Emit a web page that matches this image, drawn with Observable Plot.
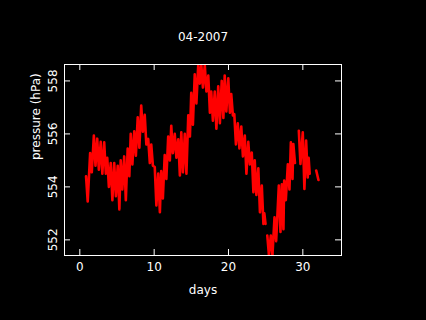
<!DOCTYPE html>
<html>
<head>
<meta charset="utf-8">
<script src="https://cdn.jsdelivr.net/npm/d3@7"></script>
<script src="https://cdn.jsdelivr.net/npm/@observablehq/plot@0.6"></script>
<style>
  html, body { margin: 0; padding: 0; background: #000; }
  #chart svg { display: block; }
</style>
</head>
<body>
<div id="chart"></div>
<script>
const title = "04-2007";
const xLabel = "days";
const yLabel = "pressure (hPa)";
const xTicks = [0, 10, 20, 30];
const yTicks = [552, 554, 556, 558];

// pressure readings (hPa); null = gap in the record
const days = [
  0.84, 1.06, 1.39, 1.61, 1.89, 2.11, 2.34, 2.56, 2.81, 3.03,
  3.28, 3.50, 3.69, 3.91, 4.16, 4.38, 4.63, 4.85, 5.10, 5.32,
  5.50, 5.72, 5.97, 6.19, 6.44, 6.66, 6.85, 7.07, 7.32, 7.54,
  7.79, 8.01, 8.26, 8.48, 8.73, 8.95, 9.20, 9.42, 9.61, 9.83,
  10.08, 10.30, 10.55, 10.77, 10.95, 11.17, 11.42, 11.64, 11.89, 12.11,
  12.30, 12.52, 12.77, 12.99, 13.24, 13.46, 13.65, 13.87, 14.12, 14.34,
  14.59, 14.81, 14.99, 15.21, 15.46, 15.68, 15.93, 16.15, 16.34, 16.56,
  16.81, 17.03, 17.28, 17.50, 17.68, 17.90, 18.15, 18.37, 18.62, 18.84,
  19.09, 19.31, 19.49, 19.71, 19.97, 20.19, 20.37, 20.59, 20.78, 21.00,
  21.25, 21.47, 21.72, 21.94, 22.19, 22.41, 22.66, 22.88, 23.13, 23.35,
  23.53, 23.75, 24.01, 24.23, 24.48, 24.70, 24.82, 24.98, 25.10,
  25.22, 25.44, 25.69, 25.91, 26.19, 26.41, 26.77, 26.99, 27.17, 27.39,
  27.49, 27.71, 27.98, 28.20, 28.39, 28.61, 28.72, 28.94, 29.20,
  29.46, 29.68, 29.99, 30.21, 30.44, 30.66, 30.78, 30.92, 31.30,
  31.80, 32.10
];
const pressure = [
  554.40, 553.45, 555.28, 554.55, 555.94, 554.80, 555.82, 554.65, 555.70, 554.50,
  555.68, 554.50, 555.10, 554.00, 554.90, 553.50, 554.90, 553.65, 554.80, 553.15,
  555.00, 553.90, 555.15, 553.50, 555.45, 554.40, 556.00, 554.85, 556.10, 555.18,
  556.63, 555.48, 557.07, 556.08, 556.72, 555.60, 555.81, 554.90, 555.60, 554.80,
  554.75, 553.30, 554.50, 553.04, 554.60, 553.56, 555.20, 554.30, 555.90, 555.00,
  556.31, 555.27, 556.00, 555.10, 555.80, 554.43, 556.06, 554.55, 556.00, 554.50,
  556.70, 555.90, 557.55, 556.35, 558.25, 557.15, 558.60, 557.90, 558.62, 557.75,
  558.60, 557.60, 558.20, 556.80, 557.60, 556.50, 557.60, 556.20, 557.80, 556.40,
  558.00, 556.60, 558.20, 556.85, 558.10, 556.80, 557.50, 556.70, 556.75, 555.60,
  556.40, 555.45, 556.28, 555.15, 555.94, 554.50, 555.70, 554.85, 555.30, 553.80,
  555.00, 553.70, 554.70, 553.04, 554.05, 552.60, 553.00, 552.60, null,
  552.16, 551.42, 552.16, 551.42, 552.85, 551.95, 554.05, 552.30, 554.10, 552.40,
  554.24, 553.50, 554.85, 553.90, 555.68, 554.30, 555.62, 554.90, null,
  556.12, 554.87, 556.06, 553.92, 555.75, 554.36, 555.10, 554.50, null,
  554.62, 554.26
];

const idx = d3.range(days.length);
const frameH = 255 - 64;
const frameW = 341 - 64;
const tick = 6;

const chart = Plot.plot({
  width: 426,
  height: 320,
  marginLeft: 64,
  marginRight: 85,
  marginTop: 64,
  marginBottom: 65,
  x: {domain: [-2.06, 35.2]},
  y: {domain: [551.41, 558.62]},
  style: {background: "#000", color: "#fff", fontFamily: "DejaVu Sans", fontSize: "12px"},
  marks: [
    Plot.line(idx, {x: i => days[i], y: i => pressure[i], stroke: "#ff0000", strokeWidth: 2.6, clip: true}),
    Plot.frame({stroke: "#fff", strokeWidth: 1}),
    Plot.ruleX(xTicks, {x: d => d, stroke: "#fff", insetTop: frameH - tick}),
    Plot.ruleX(xTicks, {x: d => d, stroke: "#fff", insetBottom: frameH - tick}),
    Plot.ruleY(yTicks, {y: d => d, stroke: "#fff", insetRight: frameW - tick}),
    Plot.ruleY(yTicks, {y: d => d, stroke: "#fff", insetLeft: frameW - tick}),
    Plot.axisX({ticks: xTicks, tickSize: 0, tickPadding: 7, label: null, fontSize: 12, fill: "#fff"}),
    Plot.axisY({ticks: yTicks, tickSize: 0, tickPadding: 8, label: null, rotate: -90, textAnchor: "middle", lineAnchor: "bottom", fontSize: 12, fill: "#fff"}),
    Plot.text([title], {frameAnchor: "top", dy: -23.5, lineAnchor: "bottom", fill: "#fff", fontSize: 12}),
    Plot.text([xLabel], {frameAnchor: "bottom", dy: 38, lineAnchor: "bottom", fill: "#fff", fontSize: 12}),
    Plot.text([yLabel], {frameAnchor: "left", dx: -24.5, rotate: -90, lineAnchor: "bottom", fill: "#fff", fontSize: 12})
  ]
});
document.getElementById("chart").appendChild(chart);
</script>
</body>
</html>
